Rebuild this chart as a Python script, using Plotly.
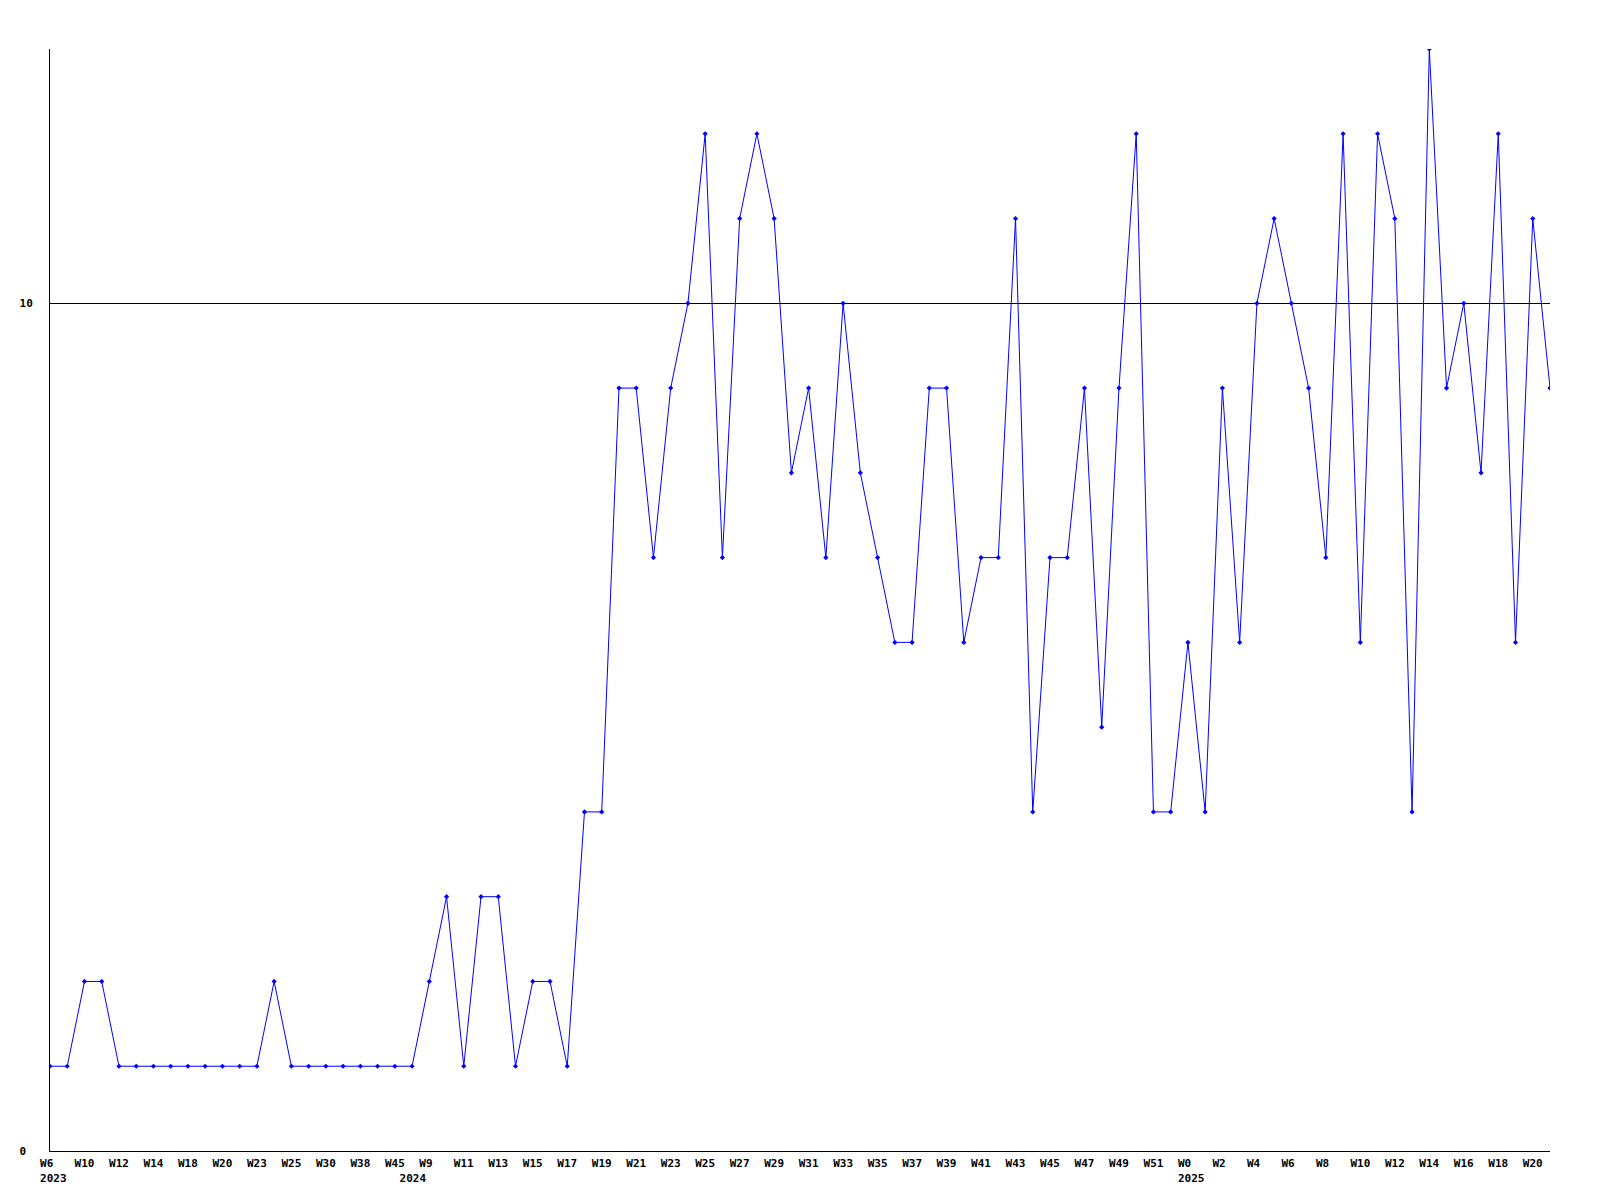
import plotly.graph_objects as go

# Weekly values (one per point)
values = [
    1, 1, 2, 2, 1, 1, 1, 1, 1, 1, 1, 1, 1, 2, 1, 1, 1, 1, 1, 1, 1, 1,
    2, 3, 1, 3, 3, 1, 2, 2, 1, 4, 4, 9, 9, 7, 9, 10, 12, 7, 11, 12, 11, 8,
    9, 7, 10, 8, 7, 6, 6, 9, 9, 6, 7, 7, 11, 4, 7, 7, 9, 5, 9, 12, 4, 4,
    6, 4, 9, 6, 10, 11, 10, 9, 7, 12, 6, 12, 11, 4, 13, 9, 10, 8, 12, 6, 11, 9,
]

# Week tick labels shown under every second point
week_labels = [
    "W6", "W10", "W12", "W14", "W18", "W20", "W23", "W25", "W30", "W38", "W45",
    "W9", "W11", "W13", "W15", "W17", "W19", "W21", "W23", "W25", "W27", "W29",
    "W31", "W33", "W35", "W37", "W39", "W41", "W43", "W45", "W47", "W49", "W51",
    "W0", "W2", "W4", "W6", "W8", "W10", "W12", "W14", "W16", "W18", "W20",
]
# Year shown under the first label of each year (index into week_labels)
year_labels = {0: "2023", 11: "2024", 33: "2025"}

y_tick_values = [0, 10]
y_tick_labels = ["0", "10"]

NB = "&nbsp;"


def fmt_week(w):
    # monospace labels are drawn left-aligned in a 3-char cell in the original
    return w + NB * (3 - len(w))


year_pad = {"2023": (1, 0), "2024": (0, 5), "2025": (1, 0)}

tick_text = []
for i, w in enumerate(week_labels):
    t = fmt_week(w)
    if i in year_labels:
        y = year_labels[i]
        lp, rp = year_pad[y]
        t += "<br>" + NB * lp + y + NB * rp
    tick_text.append(t)

y_tick_text = [t + NB * (2 - len(t)) for t in y_tick_labels]

x = list(range(len(values)))

font = dict(family="DejaVu Sans Mono", size=11, color="black", weight="bold")

fig = go.Figure(
    go.Scatter(
        x=x,
        y=values,
        mode="lines+markers",
        line=dict(color="#0000FF", width=1),
        marker=dict(symbol="diamond", size=4, color="#0000FF"),
        hoverinfo="x+y",
    )
)

fig.update_layout(
    width=1600,
    height=1200,
    paper_bgcolor="white",
    plot_bgcolor="white",
    showlegend=False,
    margin=dict(l=42, r=58, t=41, b=57, autoexpand=False),
    font=font,
)

fig.update_xaxes(
    range=[0, len(values) - 1],
    tickvals=x[::2],
    ticktext=tick_text,
    tickangle=0,
    tickfont=font,
    showgrid=False,
    zeroline=False,
    showline=True,
    linecolor="black",
    linewidth=1,
    ticks="",
    ticklabelstandoff=2,
)

fig.update_yaxes(
    range=[0, 13],
    tickvals=y_tick_values,
    ticktext=y_tick_text,
    tickfont=font,
    showgrid=True,
    gridcolor="black",
    gridwidth=1,
    zeroline=False,
    showline=True,
    linecolor="black",
    linewidth=1,
    ticks="",
    ticklabelstandoff=14,
)

fig.write_html("out.html")
